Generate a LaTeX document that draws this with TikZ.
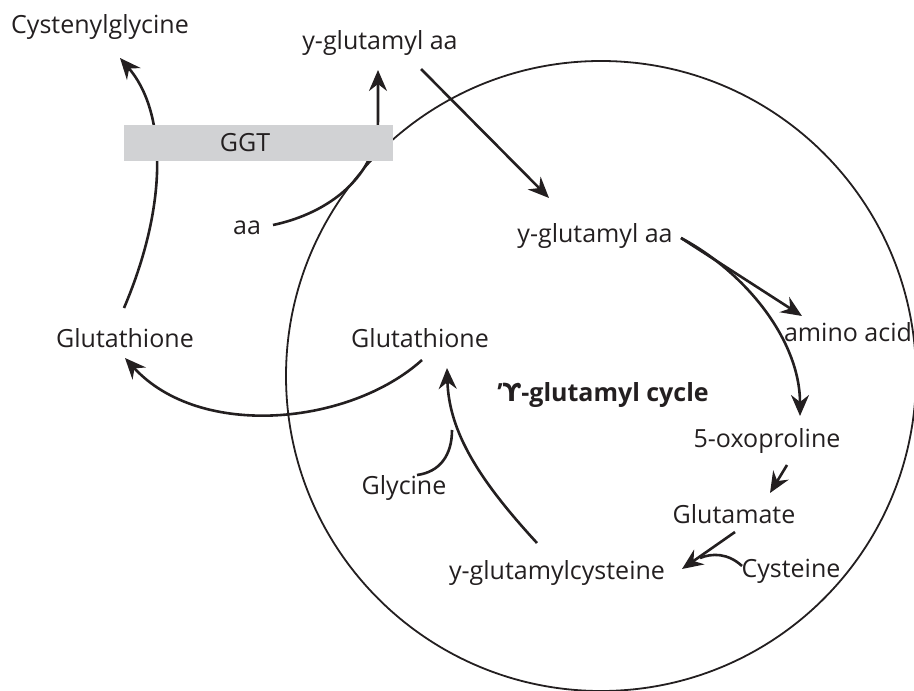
\documentclass[tikz,border=0pt]{standalone}
\usepackage{fontspec}
\setmainfont{Open Sans}
\newfontfamily\upsfont{DejaVu Sans}
\usetikzlibrary{arrows.meta}
\definecolor{ink}{HTML}{231F20}
\definecolor{ggtgray}{HTML}{D1D2D4}

\begin{document}
\begin{tikzpicture}[x=0.5pt,y=-0.5pt,
    lbl/.style={inner sep=0pt,text=ink,font=\fontsize{12.5}{14}\selectfont},
    rxn/.style={draw=ink,line width=1.3pt,-{Stealth[length=10.5pt,width=9pt,inset=3.5pt]}},
    feed/.style={draw=ink,line width=1.3pt},
    cell/.style={draw=ink,line width=0.9pt}]
\useasboundingbox (0,0) rectangle (914,690);

% the cell
\draw[cell] (601,376) circle [radius=315];

% labels
\node[lbl] (cysgly) at (100,27)  {Cystenylglycine};
\node[lbl] (gaaout) at (380,43)  {y-glutamyl aa};
\node[lbl] (aa)     at (247,228) {aa};
\node[lbl] (glutL)  at (125,338) {Glutathione};
\node[lbl] (glutI)  at (420,338) {Glutathione};
\node[lbl] (gaain)  at (595,236) {y-glutamyl aa};
\node[lbl] (amino)  at (848,332) {amino acid};
\node[lbl,font=\fontsize{12.5}{14}\selectfont\bfseries] (cycle) at (603,395)
    {'{\upsfont ϒ}-glutamyl cycle};
\node[lbl] (oxo)    at (767,441) {5-oxoproline};
\node[lbl] (glum)   at (734,514) {Glutamate};
\node[lbl] (cys)    at (791,571) {Cysteine};
\node[lbl] (ygc)    at (557,573) {y-glutamylcysteine};
\node[lbl] (gly)    at (404,488) {Glycine};

% arrow ends
\coordinate (glutL-out) at (124,308);
\coordinate (cysgly-in) at (120,58);
\coordinate (aa-out)    at (273,225);
\coordinate (gaaout-in) at (378,70);
\coordinate (gaaout-out) at (421,69);
\coordinate (gaain-in)  at (549,198);
\coordinate (gaain-out) at (681,238);
\coordinate (amino-in)  at (802,316);
\coordinate (oxo-in)    at (800,416);
\coordinate (oxo-out)   at (787,465);
\coordinate (glum-in)   at (770,493);
\coordinate (glum-out)  at (735,532);
\coordinate (ygc-in)    at (682,569);
\coordinate (cys-out)   at (742,566);
\coordinate (ygc-out)   at (537,543);
\coordinate (glutI-in)  at (447,368);
\coordinate (gly-out)   at (417,475);
\coordinate (glutI-out) at (422,360);
\coordinate (glutL-in)  at (125,358);

% transport across the membrane
\draw[rxn] (glutL-out) .. controls (170,200) and (165,110) .. (cysgly-in);
\draw[rxn] (aa-out) .. controls (330,213) and (378,175) .. (378,120) -- (gaaout-in);
\draw[rxn] (gaaout-out) -- (gaain-in);
\draw[rxn] (glutI-out) .. controls (350,425) and (200,440) .. (glutL-in);

% the cycle
\draw[rxn] (gaain-out) -- (amino-in);
\draw[rxn] (gaain-out) .. controls (745,272) and (800,340) .. (oxo-in);
\draw[rxn] (oxo-out) -- (glum-in);
\draw[rxn] (glum-out) -- (ygc-in);
\draw[feed] (cys-out) .. controls (728,553) and (712,553) .. (700,558);
\draw[rxn] (ygc-out) .. controls (479,480) and (449,432) .. (glutI-in);
\draw[feed] (gly-out) .. controls (440,472) and (452,455) .. (452,430);

% GGT over the membrane
\fill[ggtgray] (124,125) rectangle (393,161);
\node[lbl] (ggt) at (245,143) {GGT};
\end{tikzpicture}
\end{document}
